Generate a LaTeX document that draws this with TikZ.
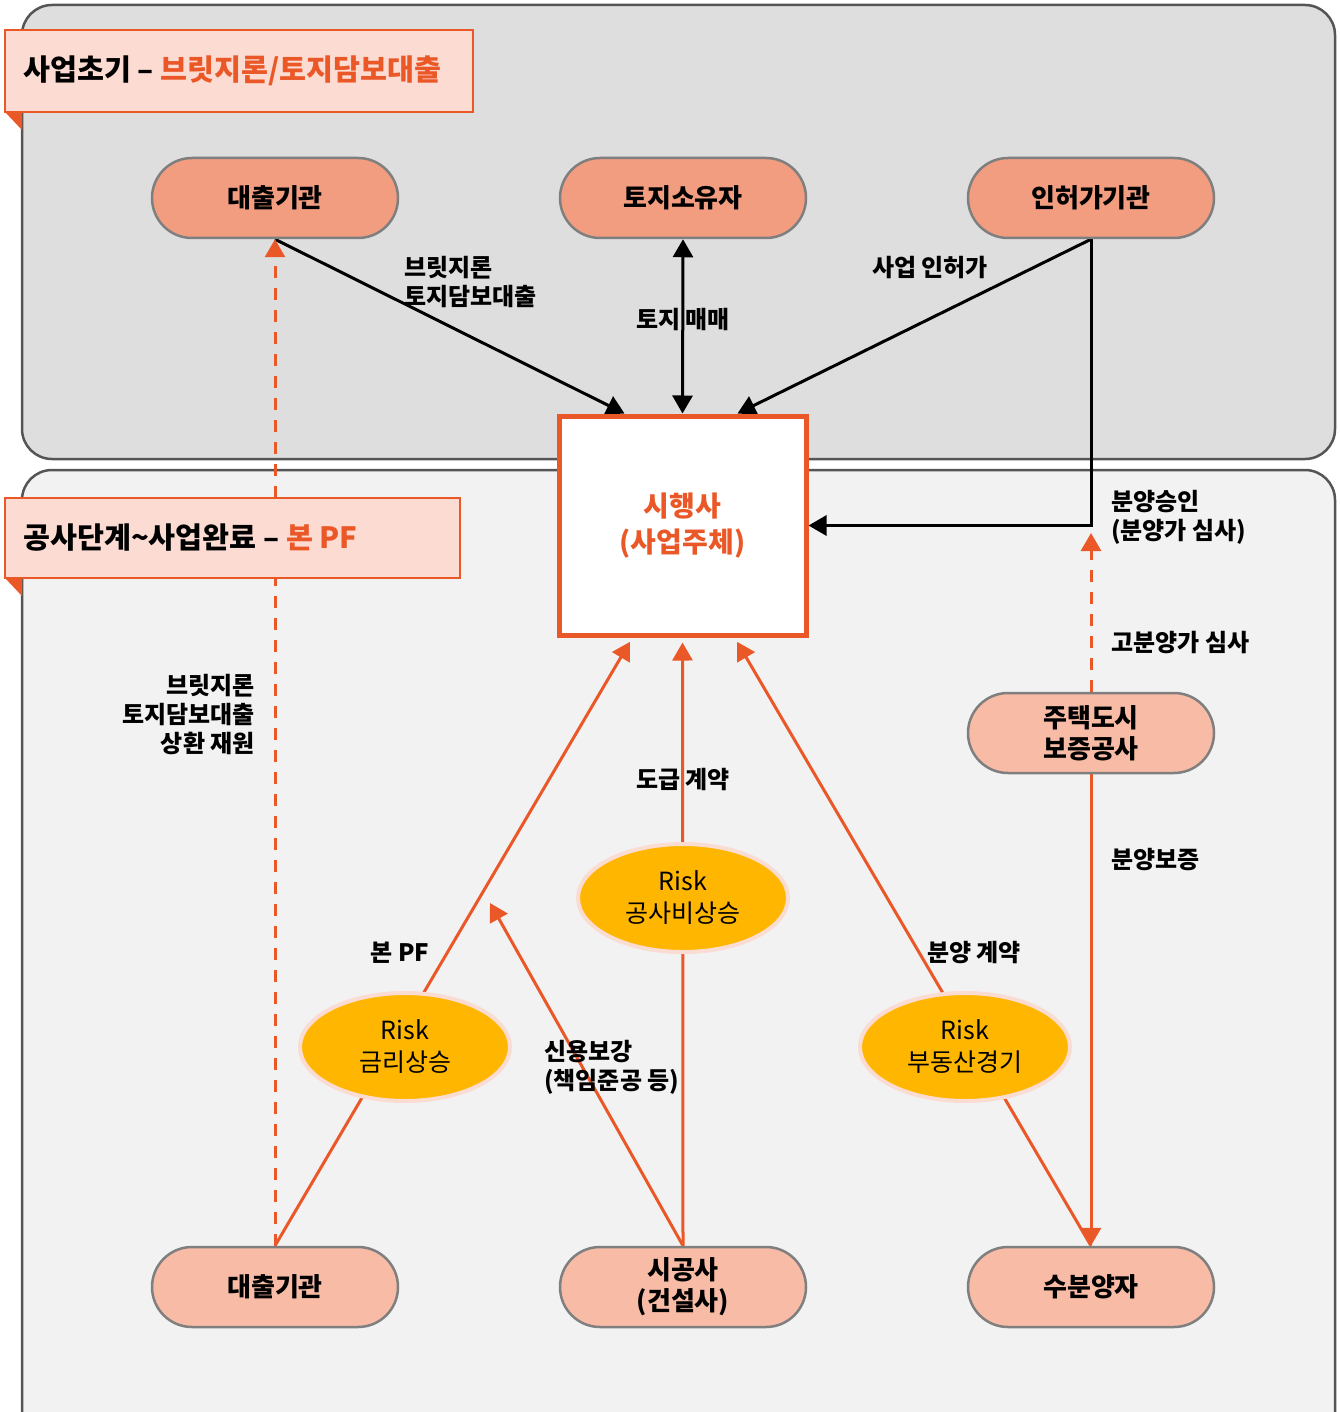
\documentclass[tikz,border=0pt]{standalone}
\usepackage{fontspec}
\setmainfont{Noto Sans CJK KR}
\usetikzlibrary{arrows.meta,calc,shapes.geometric}
\definecolor{orng}{RGB}{235,88,40}
\definecolor{panelA}{RGB}{222,222,222}
\definecolor{panelB}{RGB}{242,242,242}
\definecolor{panelline}{RGB}{85,85,85}
\definecolor{hdrfill}{RGB}{251,219,210}
\definecolor{nodeA}{RGB}{242,156,128}
\definecolor{nodeB}{RGB}{248,187,166}
\definecolor{nodeline}{RGB}{127,127,127}
\definecolor{riskfill}{RGB}{255,182,0}
\definecolor{riskline}{RGB}{251,220,210}
\pgfdeclarelayer{bg}
\pgfdeclarelayer{lines}
\pgfsetlayers{bg,lines,main}
\tikzset{
  panel/.style={draw=panelline, line width=2.5pt, rounded corners=30pt},
  hdr/.style={draw=orng, fill=hdrfill, line width=2pt},
  pill/.style={draw=nodeline, line width=2.5pt, rounded corners=40pt, minimum width=246pt, minimum height=80pt, align=center, font=\fontsize{26}{31}\selectfont\bfseries},
  pillA/.style={pill, fill=nodeA},
  pillB/.style={pill, fill=nodeB},
  riskbox/.style={ellipse, draw=riskline, fill=riskfill, line width=4pt, minimum width=210pt, minimum height=108pt, align=center, font=\fontsize{25}{32}\selectfont, inner sep=0pt},
  lbl/.style={font=\fontsize{24}{29}\selectfont\bfseries, inner sep=0pt},
  blk/.style={draw=black, line width=3pt, -{Triangle[length=18pt,width=20pt]}},
  blkboth/.style={draw=black, line width=3pt, {Triangle[length=18pt,width=20pt]}-{Triangle[length=18pt,width=20pt]}},
  org/.style={draw=orng, line width=3pt, -{Triangle[length=18pt,width=20pt]}},
  orgdash/.style={org, dash pattern=on 12pt off 10pt},
}
\begin{document}
\begin{tikzpicture}[x=1pt,y=-1pt]
\useasboundingbox (0,0) rectangle (1339,1412);
\begin{pgfonlayer}{bg}
  \draw[panel, fill=panelA] (22,5) rectangle (1335,459);
  \draw[panel, fill=panelB] (22,470) rectangle (1335,1450);
\end{pgfonlayer}

% top row
\node[pillA] (lend1) at (275,198) {대출기관};
\node[pillA] (owner) at (683,198) {토지소유자};
\node[pillA] (perm) at (1091,198) {인허가기관};
% center
\node[draw=orng, fill=white, line width=5pt, minimum width=247pt, minimum height=219pt, align=center,
      text=orng, font=\fontsize{28}{36}\selectfont\bfseries] (dev) at (682.5,525.5) {시행사\\(사업주체)};
% bottom row
\node[pillB] (hug) at (1091,733) {주택도시\\보증공사};
\node[pillB] (lend2) at (275,1287) {대출기관};
\node[pillB] (cons) at (683,1287) {시공사\\(건설사)};
\node[pillB] (buyer) at (1091,1287) {수분양자};
% risks
\node[riskbox] (r1) at (405,1047) {Risk\\금리상승};
\node[riskbox] (r2) at (683,898) {Risk\\공사비상승};
\node[riskbox] (r3) at (965,1047) {Risk\\부동산경기};

\coordinate (cr) at (490,903);
\coordinate (apr) at (1091,533);

\begin{pgfonlayer}{lines}
  \draw[blk] (lend1.south) -- ($(dev.north)+(-58,0)$);
  \draw[blkboth] (owner.south) -- (dev.north);
  \draw[blk] (perm.south) -- ($(dev.north)+(55,0)$);
  \draw[blk] (perm.south) |- (dev.east);
  \draw[orgdash] (lend2.north) -- (lend1.south);
  \draw[org, shorten >=5pt] (lend2.north) -- ($(dev.south)+(-50,0)$);
  \draw[org, shorten >=5pt] (cons.north) -- (dev.south);
  \draw[org] (cons.north) -- (cr);
  \draw[org, shorten >=5pt] (buyer.north) -- ($(dev.south)+(52,0)$);
  \draw[org] (hug.south) -- (buyer.north);
  \draw[orgdash] (hug.north) -- (apr);
\end{pgfonlayer}

% headers
\draw[hdr] (5,30) rectangle (473,112);
\fill[orng] (5,112) -- (22,112) -- (22,130) -- cycle;
\node[anchor=west, inner sep=0pt, font=\fontsize{29.3}{34}\selectfont\bfseries] (h1) at (23,71) {사업초기 – \textcolor{orng}{브릿지론/토지담보대출}};
\draw[hdr] (5,498) rectangle (460,578);
\fill[orng] (5,578) -- (22,578) -- (22,596) -- cycle;
\node[anchor=west, inner sep=0pt, font=\fontsize{29.3}{34}\selectfont\bfseries] (h2) at (23,538) {공사단계\textasciitilde 사업완료 – \textcolor{orng}{본 PF}};

% labels
\node[lbl, anchor=west, align=left] (l1) at (404,282.5) {브릿지론\\토지담보대출};
\node[lbl] (l2) at (683,320) {토지 매매};
\node[lbl] (l3) at (930,268) {사업 인허가};
\node[lbl, anchor=west, align=left] (l4) at (1111,517.5) {분양승인\\(분양가 심사)};
\node[lbl, anchor=west] (l5) at (1111,643) {고분양가 심사};
\node[lbl, anchor=west] (l6) at (1111,860) {분양보증};
\node[lbl, anchor=east, align=right] (l7) at (255,714.5) {브릿지론\\토지담보대출\\상환 재원};
\node[lbl] (l8) at (683,780) {도급 계약};
\node[lbl] (l9) at (400,953) {본 PF};
\node[lbl] (l10) at (974,953) {분양 계약};
\node[lbl, anchor=west, align=left] (l11) at (544,1067.5) {신용보강\\(책임준공 등)};
\end{tikzpicture}
\end{document}
